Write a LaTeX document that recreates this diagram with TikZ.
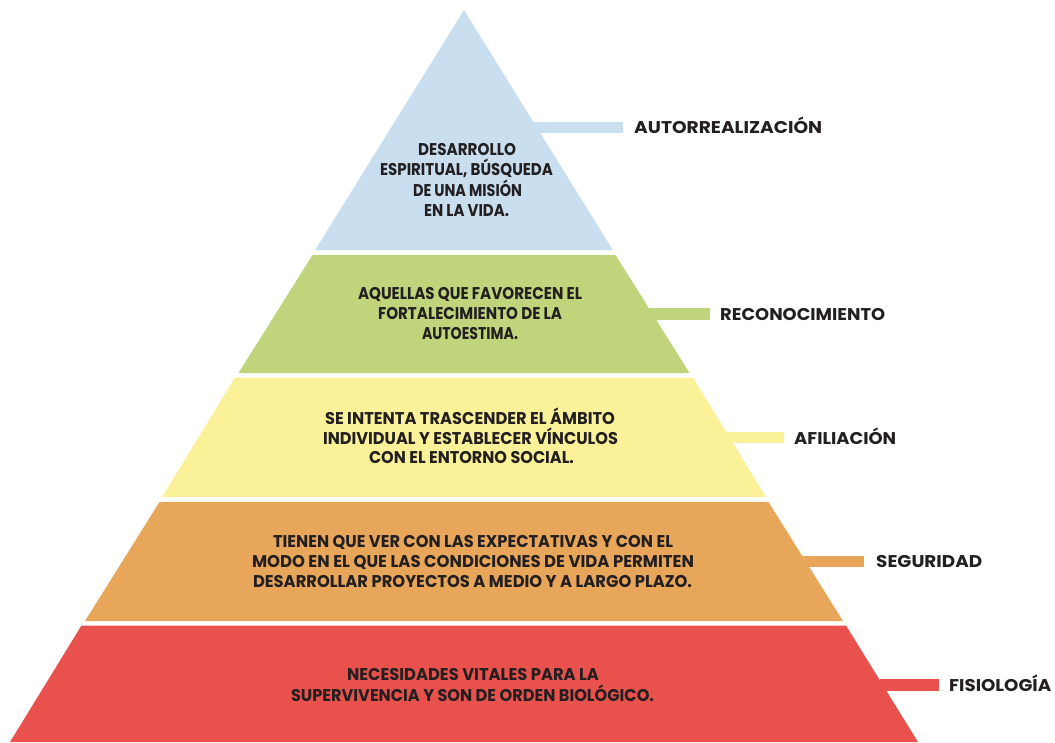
\documentclass[tikz,border=0pt]{standalone}
\usepackage{fontspec}
\usepackage{graphicx}
\setmainfont{Poppins}
\definecolor{cblue}{RGB}{201,222,239}
\definecolor{cgreen}{RGB}{192,213,123}
\definecolor{cyellow}{RGB}{250,241,153}
\definecolor{corange}{RGB}{232,166,90}
\definecolor{cred}{RGB}{233,81,77}
\definecolor{ctext}{RGB}{35,31,32}
\newsavebox\fitbox
\newcommand\fitline[2]{\sbox\fitbox{#2}\pgfmathsetmacro\fitr{#1/\the\wd\fitbox}\scalebox{\fitr}[1]{\usebox\fitbox}}
\tikzset{
  inl/.style={anchor=base, inner sep=0pt, text=ctext, font=\bfseries\fontsize{17}{19}\selectfont},
  lbl/.style={anchor=base west, inner sep=0pt, text=ctext, font=\bfseries\fontsize{17}{19}\selectfont},
  bar/.style={line width=11.5pt},
}
\begin{document}
\begin{tikzpicture}[x=1pt,y=-1pt]
\useasboundingbox (0,0) rectangle (1055,742);
% bands
\fill[cblue]   (464,10) -- (612.8,250) -- (315.2,250) -- cycle;
\fill[cgreen]  (312.5,255) -- (615.5,255) -- (689.5,373) -- (238.5,373) -- cycle;
\fill[cyellow] (235,377.5) -- (693,377.5) -- (766,497) -- (162,497) -- cycle;
\fill[corange] (159.5,502) -- (768.5,502) -- (843,621) -- (85,621) -- cycle;
\fill[cred]    (81.5,625.5) -- (846,625.5) -- (918,742) -- (10,742) -- cycle;
% labels
\node[lbl] (l1) at (634,133) {\fitline{188}{AUTORREALIZACIÓN}};
\node[lbl] (l2) at (720,320) {\fitline{165}{RECONOCIMIENTO}};
\node[lbl] (l3) at (794,444) {\fitline{102}{AFILIACIÓN}};
\node[lbl] (l4) at (876,567) {\fitline{106}{SEGURIDAD}};
\node[lbl] (l5) at (949,691) {\fitline{102}{FISIOLOGÍA}};
% bars
\coordinate (b1) at (520,127.5);
\coordinate (b2) at (640,314);
\coordinate (b3) at (720,437.5);
\coordinate (b4) at (800,561.5);
\coordinate (b5) at (880,685);
\draw[bar,cblue,shorten >=11pt]    (b1) -- (b1 -| l1.west);
\draw[bar,cgreen,shorten >=10pt]   (b2) -- (b2 -| l2.west);
\draw[bar,cyellow,shorten >=10pt]  (b3) -- (b3 -| l3.west);
\draw[bar,corange,shorten >=12pt]  (b4) -- (b4 -| l4.west);
\draw[bar,cred,shorten >=10pt]     (b5) -- (b5 -| l5.west);
% inner texts
\node[inl] (t1a) at (467,155) {\fitline{98}{DESARROLLO}};
\node[inl] (t1b) at (466.5,175) {\fitline{173}{ESPIRITUAL, BÚSQUEDA}};
\node[inl] (t1c) at (467.5,196) {\fitline{109}{DE UNA MISIÓN}};
\node[inl] (t1d) at (466.5,216) {\fitline{85}{EN LA VIDA.}};
\node[inl] (t2a) at (470,299) {\fitline{224}{AQUELLAS QUE FAVORECEN EL}};
\node[inl] (t2b) at (470,319) {\fitline{184}{FORTALECIMIENTO DE LA}};
\node[inl] (t2c) at (470,339) {\fitline{96}{AUTOESTIMA.}};
\node[inl] (t3a) at (470,424) {\fitline{290}{SE INTENTA TRASCENDER EL ÁMBITO}};
\node[inl] (t3b) at (470.5,444) {\fitline{295}{INDIVIDUAL Y ESTABLECER VÍNCULOS}};
\node[inl] (t3c) at (471.5,463) {\fitline{205}{CON EL ENTORNO SOCIAL.}};
\node[inl] (t4a) at (473,547) {\fitline{400}{TIENEN QUE VER CON LAS EXPECTATIVAS Y CON EL}};
\node[inl] (t4b) at (473,567) {\fitline{442}{MODO EN EL QUE LAS CONDICIONES DE VIDA PERMITEN}};
\node[inl] (t4c) at (472.5,587) {\fitline{439}{DESARROLLAR PROYECTOS A MEDIO Y A LARGO PLAZO.}};
\node[inl] (t5a) at (473,680) {\fitline{252}{NECESIDADES VITALES PARA LA}};
\node[inl] (t5b) at (472.5,701) {\fitline{363}{SUPERVIVENCIA Y SON DE ORDEN BIOLÓGICO.}};
\end{tikzpicture}
\end{document}
